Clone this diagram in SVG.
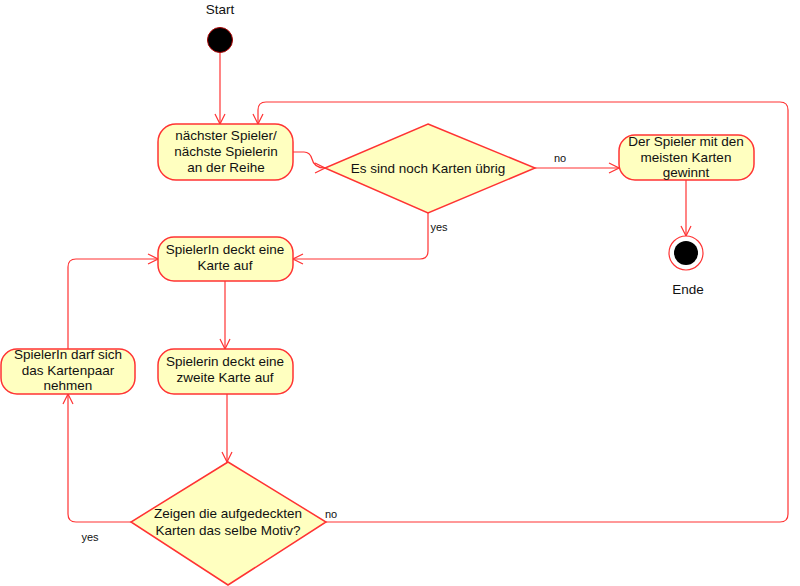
<svg xmlns="http://www.w3.org/2000/svg" width="800" height="586" viewBox="0 0 800 586">
<defs>
<marker id="arr" viewBox="0 0 12 12" refX="11" refY="6" markerWidth="12" markerHeight="12" markerUnits="userSpaceOnUse" orient="auto">
<path d="M1,1 L11,6 L1,11" fill="none" stroke="#ff3333" stroke-width="1.2"/>
</marker>
<style>
.n{fill:#ffffc0;stroke:#ff3333;stroke-width:1.5}
.c{fill:none;stroke:#ff3333;stroke-width:1.2;marker-end:url(#arr)}
text{font-family:"Liberation Sans",Arial,sans-serif;font-size:13.5px;fill:#111;text-anchor:middle}
.l{font-size:11px}
</style>
</defs>
<rect width="800" height="586" fill="#fff"/>
<g id="connectors">
<path class="c" d="M220,53 L220,124"/>
<path class="c" d="M326,522 L780,522 Q788,522 788,514 L788,110 Q788,102 780,102 L266,102 Q258,102 258,110 L258,124"/>
<path class="c" d="M293,152 L304,152 Q310,152 312,159 Q314,168 325,168"/>
<path class="c" d="M535,168 L619,168"/>
<path class="c" d="M428,213 L428,251 Q428,259 420,259 L293,259"/>
<path class="c" d="M686,180 L686,236"/>
<path class="c" d="M225,281 L225,349"/>
<path class="c" d="M227,394 L227,462"/>
<path class="c" d="M131,522 L76,522 Q68,522 68,514 L68,394"/>
<path class="c" d="M68,349 L68,267 Q68,259 76,259 L158,259"/>
</g>
<g id="start">
<text x="220" y="14">Start</text>
<circle cx="220" cy="40" r="12.5" fill="#000" stroke="#a00" stroke-width="1"/>
</g>
<g id="n1">
<rect class="n" x="158" y="124" width="135" height="56" rx="18"/>
<text x="226" y="140">nächster Spieler/</text>
<text x="226" y="156">nächste Spielerin</text>
<text x="226" y="172">an der Reihe</text>
</g>
<g id="d1">
<polygon class="n" points="428,124 535,168 428,213 325,168"/>
<text x="428" y="173">Es sind noch Karten übrig</text>
<text class="l" x="560" y="162">no</text>
<text class="l" x="439" y="231">yes</text>
</g>
<g id="n4">
<rect class="n" x="619" y="135" width="135" height="45" rx="16"/>
<text x="686" y="146">Der Spieler mit den</text>
<text x="686" y="162">meisten Karten</text>
<text x="686" y="177">gewinnt</text>
</g>
<g id="end">
<circle cx="686" cy="253" r="17" fill="#fff" stroke="#ff3333" stroke-width="1.2"/>
<circle cx="686" cy="253" r="12" fill="#000"/>
<text x="688" y="294">Ende</text>
</g>
<g id="n2">
<rect class="n" x="158" y="237" width="135" height="44" rx="16"/>
<text x="225" y="254">SpielerIn deckt eine</text>
<text x="225" y="270">Karte auf</text>
</g>
<g id="n3">
<rect class="n" x="158" y="349" width="135" height="45" rx="16"/>
<text x="225" y="366">Spielerin deckt eine</text>
<text x="225" y="382">zweite Karte auf</text>
</g>
<g id="n5">
<rect class="n" x="1" y="349" width="134" height="45" rx="16"/>
<text x="68" y="359">SpielerIn darf sich</text>
<text x="68" y="375">das Kartenpaar</text>
<text x="68" y="390">nehmen</text>
</g>
<g id="d2">
<polygon class="n" points="228,462 326,522 228,585 131,522"/>
<text x="228" y="518">Zeigen die aufgedeckten</text>
<text x="228" y="535">Karten das selbe Motiv?</text>
<text class="l" x="331" y="518">no</text>
<text class="l" x="90" y="541">yes</text>
</g>
</svg>
